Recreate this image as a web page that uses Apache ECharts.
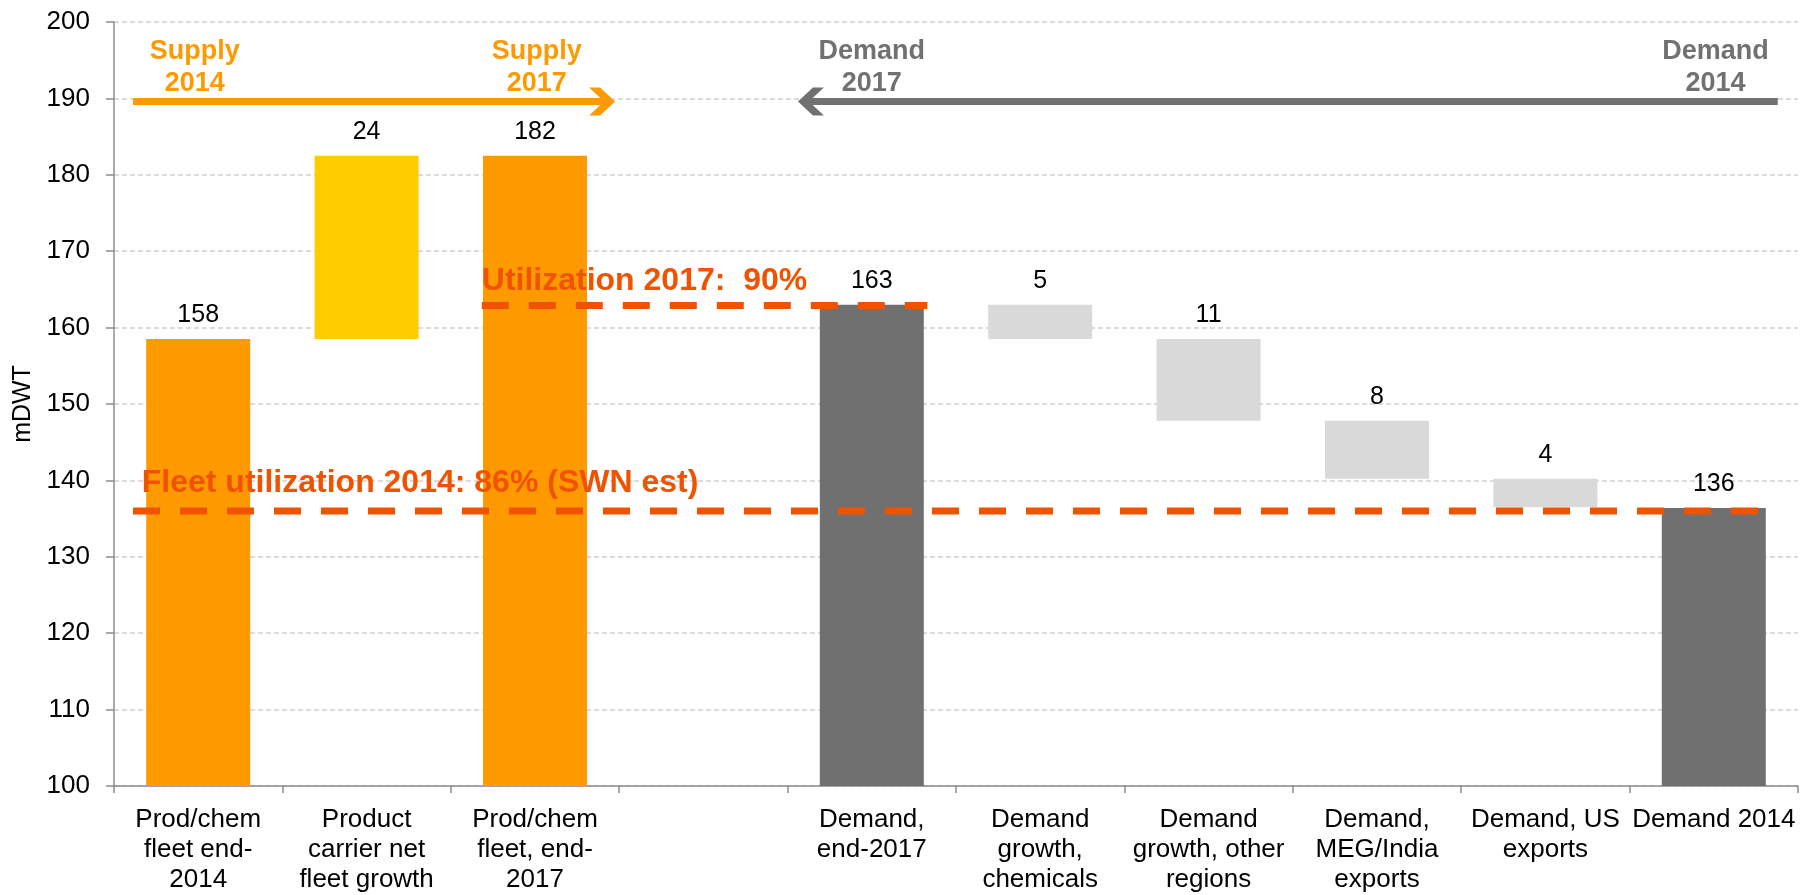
<!DOCTYPE html>
<html>
<head>
<meta charset="utf-8">
<script src="https://cdn.jsdelivr.net/npm/echarts@6/dist/echarts.min.js"></script>
<style>
html,body{margin:0;padding:0;background:#fff;}
#main{width:1803px;height:895px;}
</style>
</head>
<body>
<div id="main"></div>
<script>
/* 数据 */
var categories = ['Prod/chem\nfleet end-\n2014', 'Product\ncarrier net\nfleet growth', 'Prod/chem\nfleet, end-\n2017', '',
	'Demand,\nend-2017', 'Demand\ngrowth,\nchemicals', 'Demand\ngrowth, other\nregions', 'Demand,\nMEG/India\nexports',
	'Demand, US\nexports', 'Demand 2014'];
var barBottom = [0, 158.5, 0, null, 0, 158.5, 147.8, 140.2, 136.5, 0];
var barTop = [158.5, 182.5, 182.5, null, 163.0, 163.0, 158.5, 147.8, 140.2, 136.4];
var barLabels = ['158', '24', '182', '', '163', '5', '11', '8', '4', '136'];
var barKinds = ['supply', 'growth', 'supply', '', 'demand', 'change', 'change', 'change', 'change', 'demand'];
var yTicks = {min: 100, max: 200, interval: 10};

/* 利用率虚线 */
var util2017 = 162.9;
var util2017Span = [2.184, 4.83];
var util2014 = 136.0;
var util2014Span = [0.113, 9.87];

/* 箭头 */
var supplyArrowY = 189.6, supplyArrowSpan = [0.113, 2.94];
var demandArrowY = 189.6, demandArrowSpan = [9.88, 4.097];

var kindColor = {supply: '#FF9900', growth: '#FFCC00', demand: '#707070', change: '#D9D9D9'};
var orangeRed = '#F15200';
var fontName = 'Liberation Sans, Arial, sans-serif';

var baseData = [], valueData = [];
for (var i = 0; i < categories.length; i++) {
	if (barTop[i] == null) {
		baseData.push('-');
		valueData.push('-');
		continue;
	}
	baseData.push(barBottom[i]);
	valueData.push({
		value: +(barTop[i] - barBottom[i]).toFixed(2),
		itemStyle: {color: kindColor[barKinds[i]]}
	});
}

function dashLine(y, span) {
	return {
		type: 'line', xAxisIndex: 1, yAxisIndex: 0, symbol: 'none', silent: true, z: 5,
		lineStyle: {color: orangeRed, width: 7, type: [27, 20], opacity: 1},
		data: [[span[0], y], [span[1], y]]
	};
}
function arrowLine(y, span, color, right) {
	var head = right ? 'path://M0,0 L11,0 L26,14 L11,28 L0,28 L15,14 Z'
		: 'path://M26,0 L15,0 L0,14 L15,28 L26,28 L11,14 Z';
	return {
		type: 'line', xAxisIndex: 1, yAxisIndex: 0, silent: true, z: 6,
		symbol: 'none', showSymbol: true,
		lineStyle: {color: color, width: 7, cap: 'butt', opacity: 1},
		itemStyle: {color: color, opacity: 1},
		data: [
			{value: [span[0], y], symbol: 'none'},
			{value: [span[1], y], symbol: head, symbolSize: [26, 28], symbolOffset: [right ? -7 : 7, 0]}
		]
	};
}
function note(text, x, y, color, size, align) {
	return {
		value: [x, y],
		label: {
			show: true, formatter: text, color: color, fontSize: size, fontWeight: 'bold',
			fontFamily: fontName, lineHeight: 32, opacity: 1, textBorderWidth: 0,
			position: align == 'left' ? 'right' : 'inside', distance: 0, align: align
		}
	};
}

var chart = echarts.init(document.getElementById('main'));
var option = {
	animation: false,
	backgroundColor: '#fff',
	grid: {left: 114, right: 5, top: 22, bottom: 107, containLabel: false},
	xAxis: [{
		type: 'category',
		data: categories,
		axisLine: {lineStyle: {color: '#8C8C8C', width: 1.5}},
		axisTick: {show: true, length: 7, lineStyle: {color: '#8C8C8C', width: 1.5}},
		axisLabel: {interval: 0, color: '#000', fontSize: 26, lineHeight: 30, margin: 19, fontFamily: fontName}
	}, {
		type: 'value', min: 0, max: 10, show: false
	}],
	yAxis: {
		type: 'value',
		min: yTicks.min, max: yTicks.max, interval: yTicks.interval,
		name: 'mDWT', nameLocation: 'middle', nameGap: 76, nameRotate: 90,
		nameTextStyle: {color: '#000', fontSize: 25, fontFamily: fontName},
		axisLine: {show: true, lineStyle: {color: '#8C8C8C', width: 1.5}},
		axisTick: {show: true, length: 8, lineStyle: {color: '#8C8C8C', width: 1.5}},
		axisLabel: {color: '#000', fontSize: 26, margin: 24, fontFamily: fontName},
		splitLine: {show: true, lineStyle: {color: '#D0D0D0', width: 1.5, type: [5, 3]}}
	},
	series: [{
		type: 'bar', stack: 'w', barWidth: 104, silent: true,
		itemStyle: {color: 'transparent'},
		data: baseData
	}, {
		type: 'bar', stack: 'w', barWidth: 104, silent: true,
		data: valueData,
		label: {
			show: true, position: 'top', distance: 11, color: '#000', fontSize: 25, fontFamily: fontName,
			formatter: function (p) { return barLabels[p.dataIndex]; }
		}
	},
	dashLine(util2017, util2017Span),
	dashLine(util2014, util2014Span),
	arrowLine(supplyArrowY, supplyArrowSpan, '#FF9900', true),
	arrowLine(demandArrowY, demandArrowSpan, '#717171', false),
	{
		type: 'scatter', xAxisIndex: 1, yAxisIndex: 0, symbolSize: 0, silent: true, z: 7,
		itemStyle: {opacity: 1},
		data: [
			note('Supply\n2014', 0.48, 194.0, '#FF9900', 27, 'center'),
			note('Supply\n2017', 2.51, 194.0, '#FF9900', 27, 'center'),
			note('Demand\n2017', 4.50, 194.0, '#717171', 27, 'center'),
			note('Demand\n2014', 9.51, 194.0, '#717171', 27, 'center'),
			note('Utilization 2017:  90%', 2.184, 166.1, orangeRed, 32, 'left'),
			note('Fleet utilization 2014: 86% (SWN est)', 0.165, 139.6, orangeRed, 32, 'left')
		]
	}]
};
chart.setOption(option);
</script>
</body>
</html>
